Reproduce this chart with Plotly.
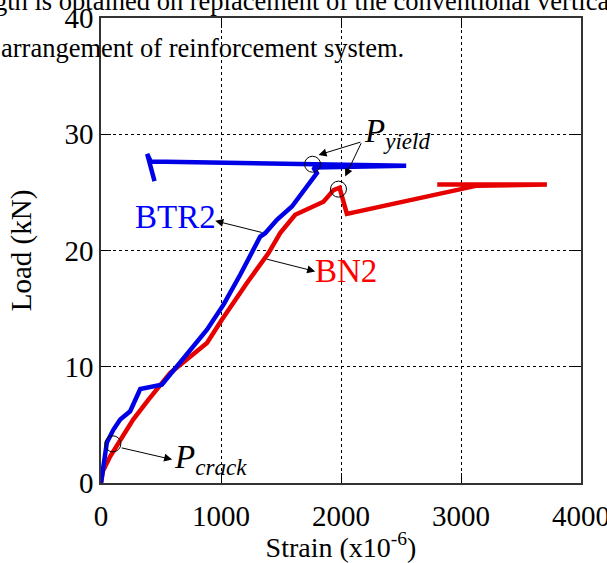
import plotly.graph_objects as go

# ---- data (strain x1e-6, load kN) ----
btr2_strain = [0, 20, 49, 104, 160, 243, 327, 507, 660, 883, 1021, 1160, 1327, 1368, 1466, 1591, 1799,
               1770, 2543, 1780, 414, 385, 446]
btr2_load = [0, 1.7, 3.48, 4.6, 5.46, 6.17, 8.09, 8.46, 10.33, 13.19, 15.34, 17.91, 21.20, 21.49, 22.64, 23.78, 26.65,
             27.14, 27.3, 27.44, 27.66, 28.3, 25.97]

bn2_strain = [0, 15, 77, 160, 268, 396, 518, 577, 883, 1007, 1216, 1396, 1493, 1618, 1854, 1938, 1988, 2049,
              3133, 3716, 2802]
bn2_load = [0, 1.0, 2.3, 3.74, 5.46, 7.17, 8.75, 9.47, 12.04, 14.05, 17.2, 19.78, 21.5, 23.07, 24.2, 25.2, 25.4, 23.15,
            25.58, 25.67, 25.67]

x_ticks = [0, 1000, 2000, 3000, 4000]
y_ticks = [0, 10, 20, 30, 40]

FONT = "Liberation Serif"
BLUE = "rgb(0,0,230)"
RED = "rgb(230,0,0)"

fig = go.Figure()
fig.add_trace(go.Scatter(x=bn2_strain, y=bn2_load, mode="lines", line=dict(color=RED, width=4.5),
                         name="BN2", showlegend=False))
fig.add_trace(go.Scatter(x=btr2_strain, y=btr2_load, mode="lines", line=dict(color=BLUE, width=4.5),
                         name="BTR2", showlegend=False))

axis_common = dict(showline=True, linecolor="#333", linewidth=1.5, mirror="ticks",
                   ticks="inside", ticklen=10, tickcolor="black", tickwidth=1,
                   showgrid=True, gridcolor="black", gridwidth=1, griddash="dot",
                   zeroline=False, tickfont=dict(family=FONT, size=29, color="black"),
                   ticklabeloverflow="allow", automargin=False)

fig.update_xaxes(range=[0, 4000], tickvals=x_ticks, ticktext=[str(v) for v in x_ticks],
                 ticklabelstandoff=6,
                 title=dict(text="Strain (x10<sup>-6</sup>)", font=dict(family=FONT, size=28, color="black"), standoff=4),
                 **axis_common)
fig.update_yaxes(range=[0, 40], tickvals=y_ticks, ticktext=[str(v) for v in y_ticks],
                 title=dict(text="Load (kN)", font=dict(family=FONT, size=29, color="black"), standoff=24),
                 **axis_common)

# arrows
arrows = [
    dict(x=952, y=22.55, ax=1352, ay=21.52),   # BTR2
    dict(x=1785, y=18.2, ax=1368, ay=19.29),   # BN2
    dict(x=593, y=2.02, ax=160, ay=3.05),      # crack
    dict(x=1813, y=28.22, ax=2174, ay=29.36),  # yield blue
    dict(x=2035, y=26.36, ax=2174, ay=29.36),  # yield red
]
for a in arrows:
    fig.add_annotation(x=a["x"], y=a["y"], ax=a["ax"], ay=a["ay"], xref="x", yref="y", axref="x", ayref="y",
                       text="", showarrow=True, arrowhead=2, arrowsize=1.6, arrowwidth=1, arrowcolor="black",
                       standoff=0, startstandoff=0)

# circles
for cx, cy in [(99, 3.37), (1763, 27.42), (1979, 25.28)]:
    fig.add_shape(type="circle", xref="x", yref="y", xsizemode="pixel", ysizemode="pixel",
                  xanchor=cx, yanchor=cy, x0=-8, x1=8, y0=-8, y1=8, line=dict(color="black", width=1))

# labels
fig.add_annotation(x=618, y=22.85, xref="x", yref="y", text="BTR2", showarrow=False,
                   font=dict(family=FONT, size=33, color="blue"))
fig.add_annotation(x=2043, y=18.2, xref="x", yref="y", text="BN2", showarrow=False,
                   font=dict(family=FONT, size=33, color="red"))
fig.add_annotation(x=591, y=2.0, xref="x", yref="y", xanchor="left", yanchor="middle",
                   text="<i>P</i><sub><i>crack</i></sub>", showarrow=False,
                   font=dict(family=FONT, size=33, color="black"))
fig.add_annotation(x=2174, y=30.1, xref="x", yref="y", xanchor="left", yanchor="middle",
                   text="<i>P</i><sub><i>yield</i></sub>", showarrow=False,
                   font=dict(family=FONT, size=33, color="black"))

# surrounding document text (cropped)
fig.add_annotation(x=(-8 - 101) / 480, y=1 - (1 - 18) / 465, xref="paper", yref="paper",
                   xanchor="left", yanchor="middle", showarrow=False,
                   text="gth is obtained on replacement of the conventional vertical",
                   font=dict(family=FONT, size=26.5, color="black"))
fig.add_annotation(x=(-1 - 101) / 480, y=1 - (48 - 18) / 465, xref="paper", yref="paper",
                   xanchor="left", yanchor="middle", showarrow=False,
                   text="arrangement of reinforcement system.",
                   font=dict(family=FONT, size=26.5, color="black"))

fig.update_layout(width=607, height=563, margin=dict(l=101, r=26, t=18, b=80),
                  paper_bgcolor="white", plot_bgcolor="white",
                  font=dict(family=FONT, color="black"))

fig.write_html("out.html")
